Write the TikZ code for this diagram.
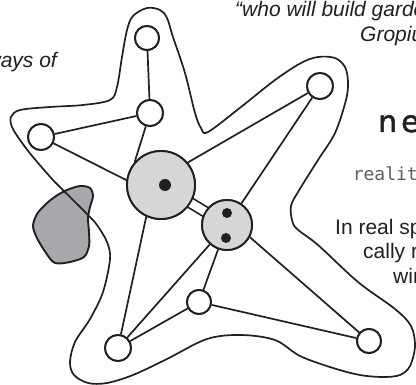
\documentclass[tikz,border=0pt]{standalone}
\usepackage{fontspec}
\setmainfont{Liberation Sans}
\newfontfamily\roundfont[FakeBold=1.5]{DejaVu Sans}
\newfontfamily\lcdfont{DejaVu Sans Mono}
\definecolor{ink}{HTML}{231F20}
\definecolor{lightfill}{HTML}{D5D6D8}
\definecolor{blobfill}{HTML}{A7A8AB}
\definecolor{lcdgray}{HTML}{5E5E5E}
\tikzset{
  outl/.style={line width=1.7pt, draw=ink, line join=round},
  conn/.style={line width=1.7pt, draw=ink},
  smallnode/.style={circle, draw=ink, line width=1.9pt, fill=white, inner sep=0pt},
  bignode/.style={circle, draw=ink, line width=1.9pt, fill=lightfill, inner sep=0pt},
  dotnode/.style={circle, fill=ink, inner sep=0pt},
  txt/.style={text=ink, inner sep=0pt, font=\fontsize{21}{25}\selectfont},
  itxt/.style={text=ink, inner sep=0pt, font=\itshape\fontsize{21}{25}\selectfont},
}
\begin{document}
\begin{tikzpicture}[x=1pt, y=-1pt]
\path[use as bounding box] (0,0) rectangle (416,385);
\clip (0,0) rectangle (416,385);
\fill[white] (0,0) rectangle (416,385);

% grey blob
\draw[outl, fill=blobfill, line width=1.9pt] plot[smooth cycle, tension=0.5] coordinates {
 (67,190) (80,186) (90,188) (93,196) (90,207) (88,218) (89,232) (89,246) (84,257)
 (70,262) (55,263) (46,253) (37,238) (33,226) (37,214) (46,204) (56,196)};

% star outline
\draw[outl] plot[smooth cycle, tension=0.55] coordinates {
 (147,8) (160,10) (167,18) (173,37) (185,73) (195,113) (201,128) (208,132)
 (241,107) (275,80) (301,63) (318,57) (335,58) (345,67) (348,82) (346,100)
 (335,133) (318,160) (298,192) (291,206) (292,220) (297,229) (318,245)
 (358,282) (395,309) (411,326) (415,346) (410,366) (400,375) (383,377)
 (360,375) (333,368) (300,356) (275,340) (241,335) (207,339) (167,359)
 (133,375) (107,383) (88,383) (74,375) (70,362) (75,342) (90,319) (103,292)
 (110,259) (107,242) (97,225) (88,215) (70,197) (53,180) (33,157) (20,140)
 (12,127) (11,117) (20,110) (50,107) (83,105) (110,100) (117,87) (122,57)
 (127,30) (133,16)};

% nodes (placed first so connectors can reference them; redrawn on top)
\node[smallnode, minimum size=24pt] (A) at (147,38) {};
\node[smallnode, minimum size=26pt] (B) at (150,113) {};
\node[smallnode, minimum size=26pt] (C) at (41,137) {};
\node[bignode, minimum size=68pt] (D) at (161,185) {};
\node[bignode, minimum size=50pt] (E) at (227,225) {};
\node[smallnode, minimum size=26pt] (F) at (320,86) {};
\node[smallnode, minimum size=24pt] (G) at (199,302) {};
\node[smallnode, minimum size=26pt] (H) at (118,348) {};
\node[smallnode, minimum size=24pt] (I) at (369,341) {};

% connectors
\draw[conn] (A) -- (B);
\draw[conn] (B) -- (C);
\draw[conn] (B) -- (D.139);
\draw[conn] (C) -- (D.172);
\draw[conn] (D.40) -- (F);
\draw[conn] (E) -- (F);
\draw[conn] (D.245) -- (H);
\draw[conn] (E) -- (H);
\draw[conn] (E) -- (G);
\draw[conn] (E.-28) -- (I);
\draw[conn] (G) -- (H);
\draw[conn] (G) -- (I);
\draw[line width=1.7pt, draw=ink, double=white, double distance=8.3pt] (D.center) -- (E.center);

% nodes on top
\node[smallnode, minimum size=24pt] at (A) {};
\node[smallnode, minimum size=26pt] at (B) {};
\node[smallnode, minimum size=26pt] at (C) {};
\node[bignode, minimum size=68pt] at (D) {};
\node[bignode, minimum size=50pt] at (E) {};
\node[smallnode, minimum size=26pt] at (F) {};
\node[smallnode, minimum size=24pt] at (G) {};
\node[smallnode, minimum size=26pt] at (H) {};
\node[smallnode, minimum size=24pt] at (I) {};

\node[dotnode, minimum size=12pt] (d1) at (165,185) {};
\node[dotnode, minimum size=10pt] (e1) at (227,213) {};
\node[dotnode, minimum size=10pt] (e2) at (226,238) {};

% texts
\node[itxt, anchor=base west] (q1) at (235,16.5) {“who will build garde};
\node[itxt, anchor=base west] (q2) at (360,42) {Gropiu};
\node[itxt, anchor=base east] (w1) at (57,68) {ways of};
\node[anchor=base west, inner sep=0pt, text=ink, font=\roundfont\fontsize{30}{31}\selectfont] (ne) at (378,132) {n\kern4pt e};
\node[anchor=base east, inner sep=0pt, text=lcdgray, font=\lcdfont\fontsize{18}{20}\selectfont] (re) at (418,181) {realit};
\node[txt, anchor=base west] (t1) at (335,235) {In real sp};
\node[txt, anchor=base west] (t2) at (363,259) {cally r};
\node[txt, anchor=base west] (t3) at (393,284) {wir};
\end{tikzpicture}
\end{document}
